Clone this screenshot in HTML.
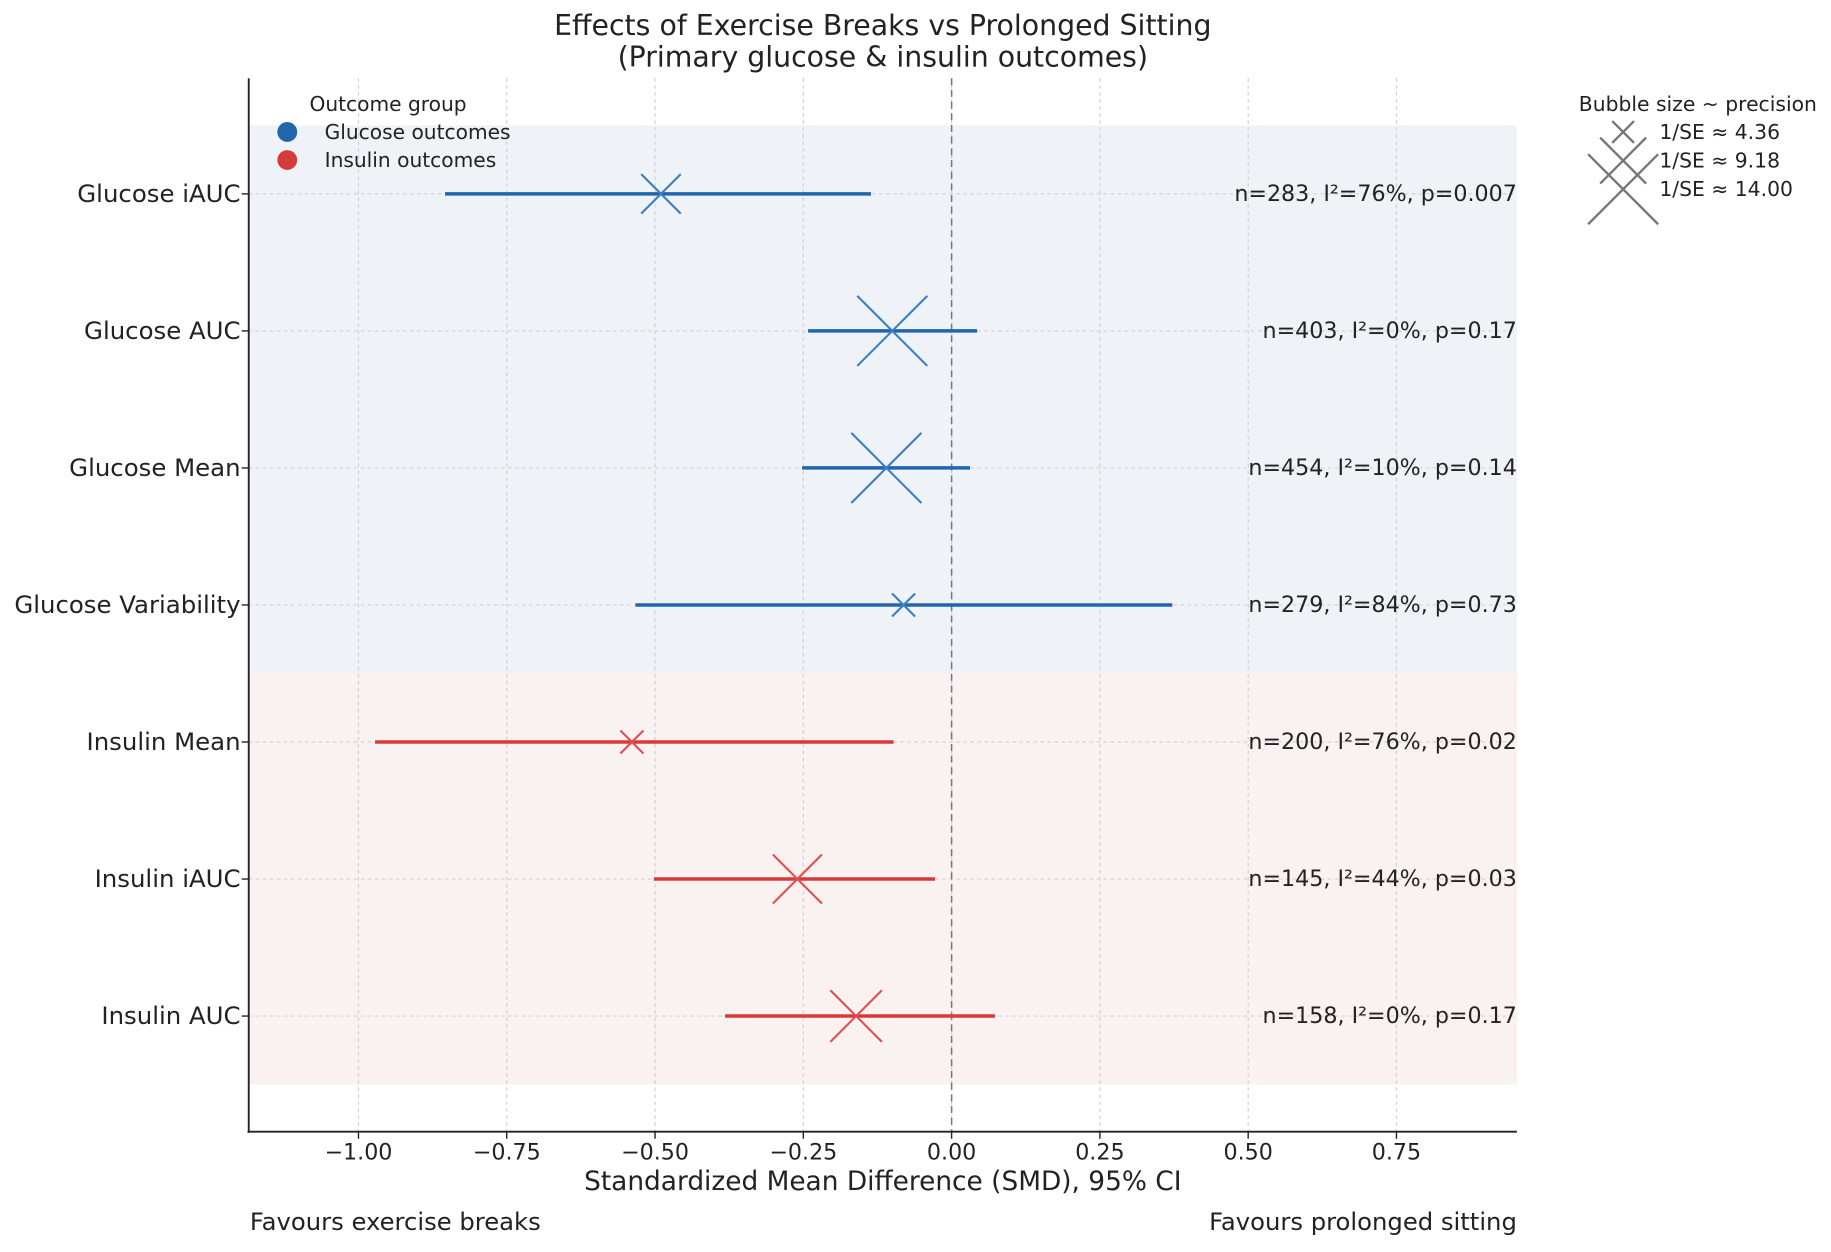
<!DOCTYPE html>
<html><head><meta charset="utf-8">
<style>
html,body{margin:0;padding:0;background:#fff;}
svg{display:block;font-family:"DejaVu Sans","Liberation Sans",sans-serif;}
</style></head>
<body>
<svg id="chart" width="1831" height="1252" viewBox="0 0 1568 1072" preserveAspectRatio="none" xmlns="http://www.w3.org/2000/svg">
<g id="bg"></g><g id="grid"></g><g id="marks"></g><g id="labels"></g>
<text x="756" y="30" text-anchor="middle" font-size="24.3" fill="#222">Effects of Exercise Breaks vs Prolonged Sitting</text>
<text x="756" y="57" text-anchor="middle" font-size="24.3" fill="#222">(Primary glucose &amp; insulin outcomes)</text>
<text x="756" y="1019" text-anchor="middle" font-size="22.6" fill="#222">Standardized Mean Difference (SMD), 95% CI</text>
<text x="214" y="1053" font-size="20.8" fill="#222">Favours exercise breaks</text>
<text x="1299" y="1053" text-anchor="end" font-size="20.8" fill="#222">Favours prolonged sitting</text>
<g>
<text x="265" y="95" font-size="17.3" fill="#222">Outcome group</text>
<circle cx="246" cy="113" r="8.5" fill="#2166ac"/>
<text x="278" y="119" font-size="17.3" fill="#222">Glucose outcomes</text>
<circle cx="246" cy="137" r="8.5" fill="#d73a3a"/>
<text x="278" y="143" font-size="17.3" fill="#222">Insulin outcomes</text>
</g>
<g id="sizeLegend">
<text x="1352" y="95" font-size="17.4" fill="#222">Bubble size ~ precision</text>
</g>
</svg>
<script>
const categories = ["Glucose iAUC","Glucose AUC","Glucose Mean","Glucose Variability","Insulin Mean","Insulin iAUC","Insulin AUC"];
const groups = ["g","g","g","g","i","i","i"];
const estimates = [-0.49,-0.10,-0.11,-0.081,-0.539,-0.26,-0.161];
const ciLow = [-0.854,-0.242,-0.252,-0.533,-0.972,-0.502,-0.382];
const ciHigh = [-0.136,0.043,0.031,0.372,-0.098,-0.028,0.073];
const precision = [7.9,14.0,14.0,4.6,4.6,9.8,10.3];
const annotations = ["n=283, I²=76%, p=0.007","n=403, I²=0%, p=0.17","n=454, I²=10%, p=0.14","n=279, I²=84%, p=0.73","n=200, I²=76%, p=0.02","n=145, I²=44%, p=0.03","n=158, I²=0%, p=0.17"];
const xTicks = [-1.0,-0.75,-0.5,-0.25,0,0.25,0.5,0.75];
const xTickLabels = ["\u22121.00","\u22120.75","\u22120.50","\u22120.25","0.00","0.25","0.50","0.75"];
const legendPrecision = [4.36,9.18,14.00];

const NS="http://www.w3.org/2000/svg";
const L=213,R=1299,T=67,B=969;
const xMin=-1.185,xMax=0.953;
const xs=v=>L+(v-xMin)/(xMax-xMin)*(R-L);
const rowY0=166,rowStep=117.33;
const ys=i=>rowY0+i*rowStep;
const half=p=>30*p/14;
function mk(parent,tag,attrs){const e=document.createElementNS(NS,tag);for(const k in attrs)e.setAttribute(k,attrs[k]);(typeof parent==="string"?document.getElementById(parent):parent).appendChild(e);return e;}
const color={g:"#2166ac",i:"#d73a3a"},mcolor={g:"#3a7fc1",i:"#e05050"};

const nG=groups.filter(g=>g==="g").length;
let b=mk("bg","rect",{x:L,y:ys(0)-rowStep/2,width:R-L,height:nG*rowStep,fill:"#eff3f7"});


b=mk("bg","rect",{x:L,y:ys(nG)-rowStep/2,width:R-L,height:(categories.length-nG)*rowStep,fill:"#faf1f1"});



xTicks.forEach((t,i)=>{
  const g=mk("grid","line",{x1:xs(t),x2:xs(t),y1:T,y2:B,stroke:"#cfcfcf","stroke-width":1,"stroke-dasharray":"3,3"});
  
  
  const tk=mk("grid","line",{x1:xs(t),x2:xs(t),y1:B,y2:B+6,stroke:"#222","stroke-width":1.2});
  
  
  const tl=mk("labels","text",{x:xs(t),y:B+24,"text-anchor":"middle","font-size":19,fill:"#222"});
  tl.textContent=xTickLabels[i];
  
  
});
categories.forEach((c,i)=>{
  const g=mk("grid","line",{x1:L,x2:R,y1:ys(i),y2:ys(i),stroke:"#d2d2d2","stroke-width":1,"stroke-dasharray":"3,3"});
  
  
  const tk=mk("grid","line",{x1:L-6,x2:L,y1:ys(i),y2:ys(i),stroke:"#222","stroke-width":1.2});
  
  
  const tl=mk("labels","text",{x:L-7,y:ys(i)+7,"text-anchor":"end","font-size":20.9,fill:"#222"});
  tl.textContent=c;
  
  
});
let z=mk("grid","line",{x1:xs(0),x2:xs(0),y1:T,y2:B,stroke:"#777","stroke-width":1.3,"stroke-dasharray":"6,4"});


let ax=mk("grid","line",{x1:L,x2:L,y1:T,y2:B+1,stroke:"#222","stroke-width":1.6});


ax=mk("grid","line",{x1:L-1,x2:R,y1:B,y2:B,stroke:"#222","stroke-width":1.6});



categories.forEach((c,i)=>{
  const y=ys(i),gc=groups[i];
  const ci=mk("marks","line",{x1:xs(ciLow[i]),x2:xs(ciHigh[i]),y1:y,y2:y,stroke:color[gc],"stroke-width":3});
  
  
  const h=half(precision[i]),x=xs(estimates[i]);
  const m=mk("marks","path",{d:`M${x-h},${y-h}L${x+h},${y+h}M${x-h},${y+h}L${x+h},${y-h}`,stroke:mcolor[gc],"stroke-width":1.8,fill:"none"});
  
  
  const a=mk("labels","text",{x:R,y:y+6,"text-anchor":"end","font-size":19,fill:"#222"});
  a.textContent=annotations[i];
  
  
});

const sl=document.getElementById("sizeLegend");
legendPrecision.forEach((p,i)=>{
  const cy=113+i*24.5,cx=1390,h=half(p);
  const m=mk(sl,"path",{d:`M${cx-h},${cy-h}L${cx+h},${cy+h}M${cx-h},${cy+h}L${cx+h},${cy-h}`,stroke:"#777","stroke-width":2,fill:"none"});
  
  
  const t=mk(sl,"text",{x:1421,y:cy+6,"font-size":17.4,fill:"#222"});
  t.textContent="1/SE \u2248 "+p.toFixed(2);
  
  
});
</script>
</body></html>
